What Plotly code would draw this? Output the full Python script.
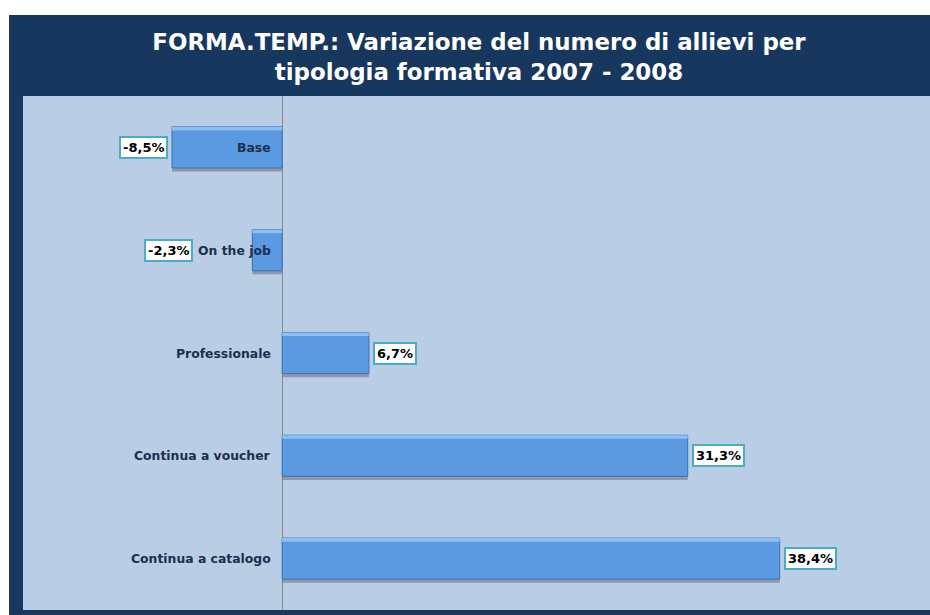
import plotly.graph_objects as go

# Data
categories = ["Base", "On the job", "Professionale", "Continua a voucher", "Continua a catalogo"]
values = [-8.5, -2.3, 6.7, 31.3, 38.4]
value_labels = ["-8,5%", "-2,3%", "6,7%", "31,3%", "38,4%"]

NAVY = "#17375e"
PLOT_BG = "#b9cde5"
BAR = "#5b9ae0"
PX_PER_UNIT = 907 / 70  # plot width / x range, used to keep labels from colliding

fig = go.Figure()

# Shadow under the bars
fig.add_trace(go.Bar(x=values, y=categories, orientation="h", width=0.4, offset=-0.165,
                     marker=dict(color="rgba(110,110,120,0.55)", line=dict(width=0)),
                     hoverinfo="skip", showlegend=False))
# Main bars
fig.add_trace(go.Bar(x=values, y=categories, orientation="h", width=0.4, offset=-0.2,
                     marker=dict(color=BAR, line=dict(color="#3d72b4", width=1)),
                     showlegend=False))
# Light strip on top edge for the bevel look
fig.add_trace(go.Bar(x=values, y=categories, orientation="h", width=0.035, offset=-0.2,
                     marker=dict(color="#8cc0f2", line=dict(width=0)),
                     hoverinfo="skip", showlegend=False))

# Category labels next to the zero line
for cat in categories:
    fig.add_annotation(x=0, y=cat, xref="x", yref="y", text="<b>" + cat + "</b>",
                       showarrow=False, xanchor="right", xshift=-9,
                       font=dict(family="DejaVu Sans", size=12.4, color="#1b2f4f"))

# Boxed value labels at bar ends
for cat, v, lab in zip(categories, values, value_labels):
    if v > 0:
        x, anchor, shift = v, "left", 4
    else:
        label_px = 7.4 * len(cat)
        if label_px + 10 > abs(v) * PX_PER_UNIT:
            # category label sticks out of the bar: put the box left of it
            x, anchor, shift = 0, "right", -(label_px + 15)
        else:
            x, anchor, shift = v, "right", -4
    fig.add_annotation(x=x, y=cat, xref="x", yref="y", text="<b>" + lab + "</b>",
                       showarrow=False, xanchor=anchor, xshift=shift,
                       bgcolor="white", bordercolor="#4bacc6", borderwidth=2, borderpad=2,
                       font=dict(family="DejaVu Sans", size=13, color="black"))

# White margin at top and left of the navy frame
fig.add_shape(type="rect", xref="paper", yref="paper", x0=-0.03, x1=1.01, y0=1.1576, y1=1.19,
              fillcolor="white", line=dict(width=0), layer="below")
fig.add_shape(type="rect", xref="paper", yref="paper", x0=-0.03, x1=-0.0154, y0=-0.02, y1=1.19,
              fillcolor="white", line=dict(width=0), layer="below")

fig.update_xaxes(range=[-20, 50], showgrid=False, showticklabels=False, ticks="",
                 zeroline=True, zerolinecolor="#8a8a8a", zerolinewidth=1)
fig.update_yaxes(categoryorder="array", categoryarray=categories, autorange="reversed",
                 showgrid=False, showticklabels=False, ticks="", zeroline=False)

fig.update_layout(
    width=930, height=615,
    margin=dict(l=23, r=0, t=96, b=5),
    paper_bgcolor=NAVY, plot_bgcolor=PLOT_BG,
    barmode="overlay", bargap=0.6,
    title=dict(text="<b>FORMA.TEMP.: Variazione del numero di allievi per<br>tipologia formativa 2007 - 2008</b>",
               x=0.515, xanchor="center", y=0.919, yanchor="middle",
               font=dict(family="DejaVu Sans", size=22.9, color="white")),
)

# drop the default page margin so the figure fills the window
fig.write_html("out.html", config={"displayModeBar": False},
               post_script="document.body.style.margin='0';")
